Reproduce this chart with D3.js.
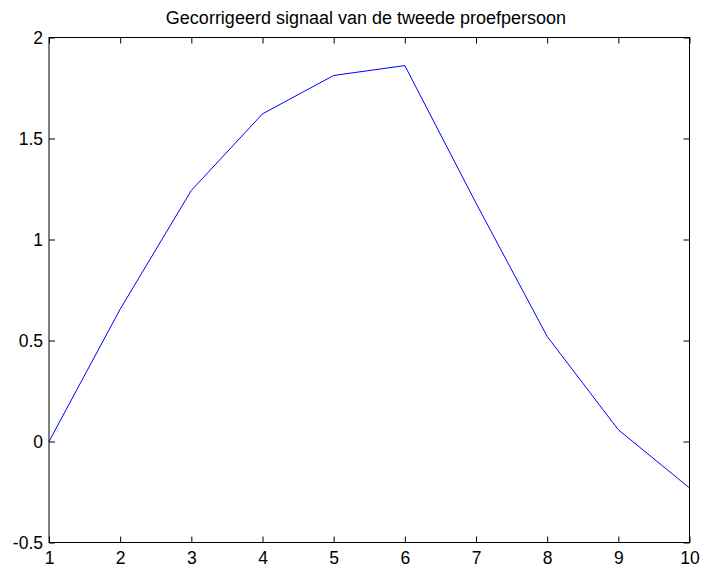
<!DOCTYPE html>
<html>
<head>
<meta charset="utf-8">
<script src="https://cdn.jsdelivr.net/npm/d3@7"></script>
<style>
  body { margin: 0; background: #fff; }
  text { font-family: "Liberation Sans", Arial, sans-serif; }
</style>
</head>
<body>
<script>
const xValues = [1, 2, 3, 4, 5, 6, 7, 8, 9, 10];
const signal = [0, 0.655, 1.243, 1.622, 1.812, 1.861, 1.18, 0.52, 0.058, -0.23];
const xTicks = [1, 2, 3, 4, 5, 6, 7, 8, 9, 10];
const yTicks = [-0.5, 0, 0.5, 1, 1.5, 2];
const title = "Gecorrigeerd signaal van de tweede proefpersoon";

const width = 702, height = 571;
const plotLeft = 49, plotRight = 689.5, plotTop = 37.5, plotBottom = 542.5;

const svg = d3.select("body").append("svg")
    .attr("width", width)
    .attr("height", height);

const x = d3.scaleLinear().domain([1, 10]).range([plotLeft, plotRight]);
const y = d3.scaleLinear().domain([-0.5, 2]).range([plotBottom, plotTop]);

// data line
svg.append("path")
    .datum(signal)
    .attr("fill", "none")
    .attr("stroke", "#0000ff")
    .attr("stroke-width", 1)
    .attr("d", d3.line().x((d, i) => x(xValues[i])).y(d => y(d)));

// box
svg.append("rect")
    .attr("x", plotLeft).attr("y", plotTop)
    .attr("width", plotRight - plotLeft).attr("height", plotBottom - plotTop)
    .attr("fill", "none")
    .attr("stroke", "#000")
    .attr("stroke-width", 1);

const tickLen = 6;
const fmt = d => String(d);

// ticks point inward on all four sides
const xb = svg.append("g").attr("transform", `translate(0,${plotBottom})`)
    .call(d3.axisBottom(x).tickValues(xTicks).tickFormat(fmt).tickSizeInner(-tickLen).tickSizeOuter(0).tickPadding(9.5));
const xt = svg.append("g").attr("transform", `translate(0,${plotTop})`)
    .call(d3.axisTop(x).tickValues(xTicks).tickFormat("").tickSizeInner(-tickLen).tickSizeOuter(0));
const yl = svg.append("g").attr("transform", `translate(${plotLeft},0)`)
    .call(d3.axisLeft(y).tickValues(yTicks).tickFormat(fmt).tickSizeInner(-tickLen).tickSizeOuter(0).tickPadding(6));
const yr = svg.append("g").attr("transform", `translate(${plotRight},0)`)
    .call(d3.axisRight(y).tickValues(yTicks).tickFormat("").tickSizeInner(-tickLen).tickSizeOuter(0));

[xb, xt, yl, yr].forEach(g => {
    g.select(".domain").remove();
    g.selectAll("line").attr("stroke", "#000");
    g.selectAll("text").attr("fill", "#000").style("font-size", "17.5px")
        .style("font-family", "'Liberation Sans', Arial, sans-serif");
});

svg.append("text")
    .attr("x", 366)
    .attr("y", 24)
    .attr("text-anchor", "middle")
    .style("font-size", "18px")
    .text(title);
</script>
</body>
</html>
